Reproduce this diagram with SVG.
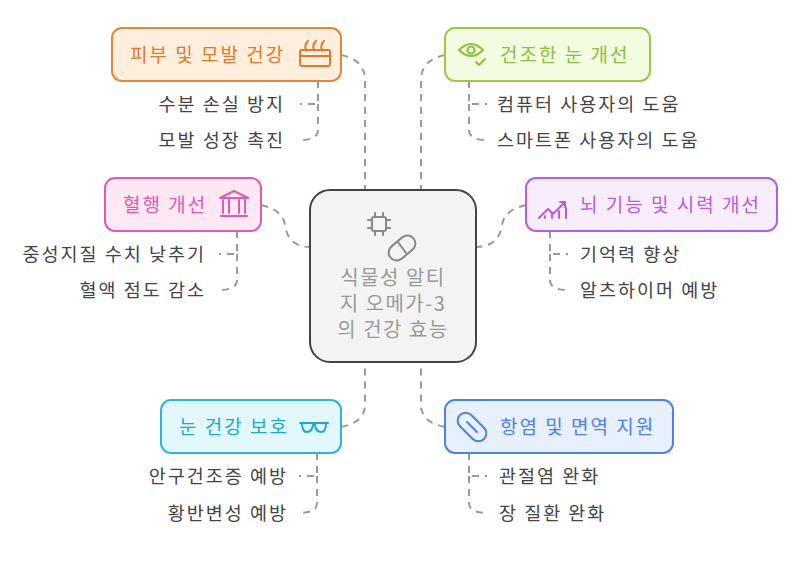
<svg xmlns="http://www.w3.org/2000/svg" width="798" height="569" viewBox="0 0 798 569">
<style>
text{font-family:"Noto Sans CJK KR","Noto Sans",sans-serif;}
.c{fill:none;stroke:#999;stroke-width:2;stroke-dasharray:7 6;}
.t{font-size:19px;letter-spacing:2px;}
.s{font-size:18.5px;fill:#444;letter-spacing:2px;}
.ic{fill:none;stroke-width:2;stroke-linecap:round;stroke-linejoin:round;}
</style>
<rect width="798" height="569" fill="#fff"/>
<g id="connectors">
<path class="c" d="M341 55 Q365 60 365 80 L365 190"/>
<path class="c" d="M445 55 Q421 60 421 80 L421 190"/>
<path class="c" d="M261 205 Q283 210 285 225 Q288 247 310 247"/>
<path class="c" d="M526 205 Q504 210 502 225 Q499 247 476 247"/>
<path class="c" d="M341 427 Q365 422 365 405 L365 362"/>
<path class="c" d="M445 427 Q421 422 421 405 L421 362"/>
<path class="c" d="M318 81 L318 104 L300 104 M318 104 L318 130 Q318 140 300 140"/>
<path class="c" d="M469 81 L469 104 L487 104 M469 104 L469 130 Q469 140 487 140"/>
<path class="c" d="M237 231 L237 254 L219 254 M237 254 L237 280 Q237 290 219 290"/>
<path class="c" d="M550 231 L550 254 L568 254 M550 254 L550 280 Q550 290 568 290"/>
<path class="c" d="M317 453 L317 476 L299 476 M317 476 L317 503 Q317 513 299 513"/>
<path class="c" d="M469 453 L469 476 L487 476 M469 476 L469 503 Q469 513 487 513"/>
</g>
<g id="center">
<rect x="310" y="190" width="166" height="172" rx="20" fill="#f3f3f3" stroke="#444" stroke-width="2"/>
<g class="ic" stroke="#888"><rect x="372" y="217" width="14" height="14" rx="2"/><path d="M375 213v4M383 213v4M375 231v4M383 231v4M368 220h4M368 228h4M386 220h4M386 228h4"/>
<rect x="387" y="240" width="30" height="16" rx="8" transform="rotate(-40 402 248)"/><path d="M398 242l8 11"/></g>
<text x="393" y="285" font-size="20" fill="#999" text-anchor="middle" letter-spacing="1.5">식물성 알티</text>
<text x="393" y="311" font-size="20" fill="#999" text-anchor="middle" letter-spacing="1.5">지 오메가-3</text>
<text x="393" y="337" font-size="20" fill="#999" text-anchor="middle" letter-spacing="1.5">의 건강 효능</text>
</g>
<g id="n1">
<rect x="112" y="28" width="229" height="53" rx="10" fill="#fdeedd" stroke="#e0883a" stroke-width="2"/>
<text class="t" x="130" y="62" fill="#e07a2a">피부 및 모발 건강</text>
<g class="ic" stroke="#e07a2a"><rect x="300" y="50" width="30" height="16" rx="2"/><path d="M300 56h30M306 50q-2-5 2-9M314 50q-2-5 2-9M322 50q-2-5 2-9"/></g>
</g>
<g id="n2">
<rect x="445" y="28" width="205" height="53" rx="10" fill="#f3fbe0" stroke="#9ac94a" stroke-width="2"/>
<g class="ic" stroke="#8cbf3a"><path d="M459 50q12-12 24 0q-12 12-24 0z"/><circle cx="471" cy="50" r="3.5"/><path d="M476 62l3 3 6-6"/></g>
<text class="t" x="500" y="62" fill="#8cbf3a">건조한 눈 개선</text>
</g>
<g id="n3">
<rect x="105" y="178" width="156" height="53" rx="10" fill="#fde8f4" stroke="#e05ab0" stroke-width="2"/>
<text class="t" x="123" y="212" fill="#e05ab0">혈행 개선</text>
<g class="ic" stroke="#e05ab0"><path d="M220 198l14-7 14 7zM221 216h26M223 200v13M229 200v13M239 200v13M245 200v13"/></g>
</g>
<g id="n4">
<rect x="526" y="178" width="251" height="53" rx="10" fill="#f8edfc" stroke="#b45ee0" stroke-width="2"/>
<g class="ic" stroke="#b45ee0"><path d="M539 218l9-9 5 5 12-12M560 202h5v5M545 218v-2M552 218v-4M559 218v-7M566 218v-10"/></g>
<text class="t" x="580" y="212" fill="#b45ee0">뇌 기능 및 시력 개선</text>
</g>
<g id="n5">
<rect x="161" y="400" width="180" height="53" rx="10" fill="#e2f8fc" stroke="#2bb6d6" stroke-width="2"/>
<text class="t" x="179" y="434" fill="#1aa9cc">눈 건강 보호</text>
<g class="ic" stroke="#1aa9cc"><path d="M300 423h28M302 423q0 9 5 9t6-7M326 423q0 9-5 9t-6-7M313 425q1-2 2 0"/></g>
</g>
<g id="n6">
<rect x="445" y="400" width="228" height="53" rx="10" fill="#e8effd" stroke="#4d82e0" stroke-width="2"/>
<g class="ic" stroke="#4d82e0"><rect x="455" y="419" width="34" height="16" rx="8" transform="rotate(45 472 427)"/><path d="M467 422l10 10"/></g>
<text class="t" x="500" y="434" fill="#4d82e0">항염 및 면역 지원</text>
</g>
<g id="subs">
<text class="s" x="285" y="111" text-anchor="end">수분 손실 방지</text>
<text class="s" x="285" y="147" text-anchor="end">모발 성장 촉진</text>
<text class="s" x="497" y="111">컴퓨터 사용자의 도움</text>
<text class="s" x="497" y="147">스마트폰 사용자의 도움</text>
<text class="s" x="206" y="261" text-anchor="end">중성지질 수치 낮추기</text>
<text class="s" x="206" y="297" text-anchor="end">혈액 점도 감소</text>
<text class="s" x="580" y="261">기억력 향상</text>
<text class="s" x="580" y="297">알츠하이머 예방</text>
<text class="s" x="288" y="483" text-anchor="end">안구건조증 예방</text>
<text class="s" x="288" y="520" text-anchor="end">황반변성 예방</text>
<text class="s" x="499" y="483">관절염 완화</text>
<text class="s" x="499" y="520">장 질환 완화</text>
</g>
</svg>
